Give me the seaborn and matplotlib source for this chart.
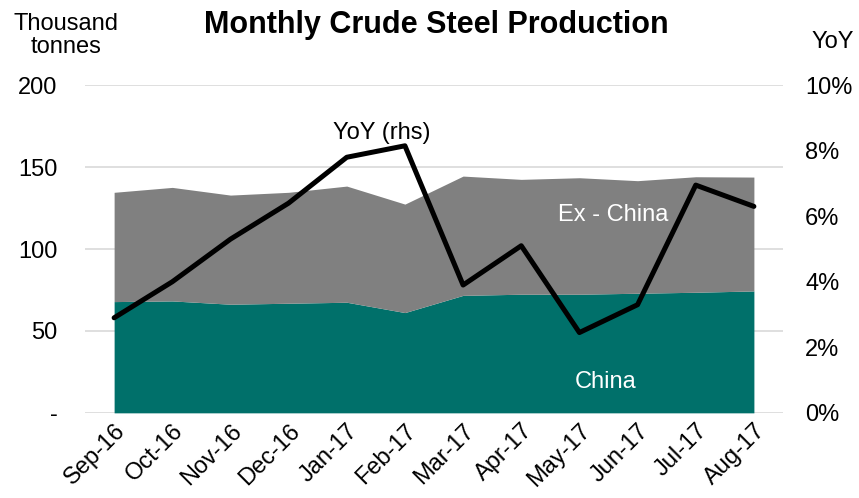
import numpy as np
import pandas as pd
import matplotlib
matplotlib.use("Agg")
import matplotlib.pyplot as plt
from matplotlib.ticker import FuncFormatter
import seaborn as sns

# -----------------------------
# DATA
# -----------------------------
months = ["Sep-16", "Oct-16", "Nov-16", "Dec-16", "Jan-17", "Feb-17",
          "Mar-17", "Apr-17", "May-17", "Jun-17", "Jul-17", "Aug-17"]
china = [67.9, 68.3, 66.3, 66.9, 67.5, 61.2, 71.7, 72.4, 72.4, 73.0, 73.6, 74.4]
total = [134.6, 137.6, 132.9, 134.6, 138.4, 127.4, 144.5, 142.5, 143.5, 141.7, 144.1, 143.9]
ex_china = [t - c for t, c in zip(total, china)]
yoy = [2.9, 4.0, 5.3, 6.4, 7.8, 8.15, 3.9, 5.1, 2.45, 3.3, 6.95, 6.3]

df = pd.DataFrame({"Month": months, "China": china,
                   "ExChina": ex_china, "YoY": yoy})
df["x"] = np.arange(len(df))

# -----------------------------
# STYLE
# -----------------------------
sns.set_theme(style="white")
plt.rcParams["font.family"] = ["Liberation Sans", "DejaVu Sans"]
plt.rcParams.update({
    "text.color": "black",
    "xtick.color": "black",
    "ytick.color": "black",
    "axes.labelcolor": "black",
})

TEAL = "#00706A"
GREY = "#808080"
GRID = "#D9D9D9"
FS = 17

fig = plt.figure(figsize=(8.59, 4.98), dpi=100, facecolor="white")
ax = fig.add_axes([0.099, 0.171, 0.8125, 0.658])

# stacked area
ax.stackplot(df["x"], df["China"], df["ExChina"],
             colors=[TEAL, GREY], linewidth=0, zorder=2)

ax.set_xlim(-0.5, len(df) - 0.5)
ax.set_ylim(0, 200)
ax.set_yticks([0, 50, 100, 150, 200])
ax.yaxis.set_major_formatter(FuncFormatter(lambda v, p: "-" if v == 0 else f"{v:.0f}"))
ax.grid(axis="y", color=GRID, linewidth=1.2, zorder=0)
ax.set_axisbelow(True)
for s in ax.spines.values():
    s.set_visible(False)
ax.tick_params(axis="y", length=0, labelsize=FS, pad=20)
ax.set_xticks(df["x"])
ax.set_xticklabels(df["Month"], rotation=45, ha="right",
                   rotation_mode="anchor", fontsize=FS)
ax.tick_params(axis="x", length=0, pad=5)
ax.set_xlabel("")
ax.set_ylabel("")

# YoY line on right axis
ax2 = ax.twinx()
sns.lineplot(data=df, x="x", y="YoY", color="black", linewidth=3.6,
             ax=ax2, zorder=3)
ax2.set_ylim(0, 10)
ax2.set_yticks([0, 2, 4, 6, 8, 10])
ax2.yaxis.set_major_formatter(FuncFormatter(lambda v, p: f"{v:.0f}%"))
ax2.tick_params(axis="y", length=0, labelsize=FS, pad=16)
for s in ax2.spines.values():
    s.set_visible(False)
ax2.set_xlabel("")
ax2.set_ylabel("")
ax2.set_xlim(-0.5, len(df) - 0.5)

# text labels
fig.text(0.508, 0.95, "Monthly Crude Steel Production", ha="center",
         va="center", fontsize=22, fontweight="bold")
fig.text(0.077, 0.928, "Thousand\ntonnes", ha="center", va="center",
         fontsize=FS, linespacing=1.05)
fig.text(0.97, 0.916, "YoY", ha="center", va="center", fontsize=FS)
ax2.text(4.6, 8.55, "YoY (rhs)", ha="center", va="center", fontsize=FS)
ax.text(8.58, 121, "Ex - China", ha="center", va="center",
        fontsize=FS, color="white")
ax.text(8.45, 19, "China", ha="center", va="center",
        fontsize=FS, color="white")

fig.savefig("out.png", dpi=100, facecolor="white")
